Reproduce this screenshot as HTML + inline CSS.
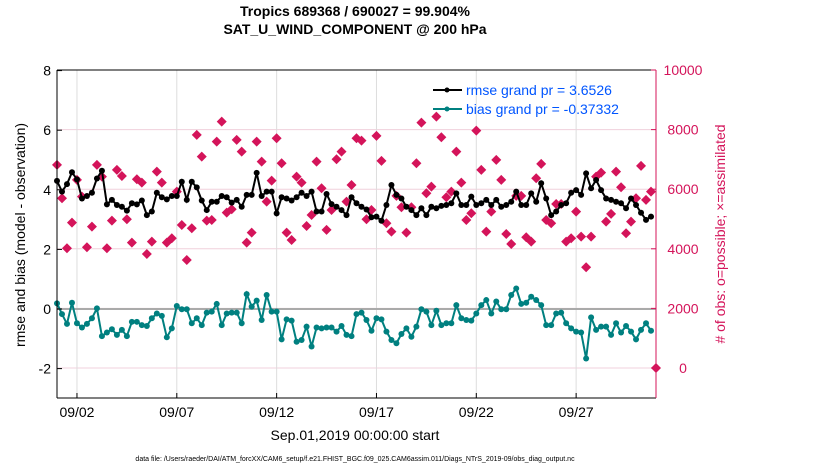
<!DOCTYPE html>
<html><head><meta charset="utf-8"><style>
body{margin:0;background:#fff;}
svg{display:block;font-family:"Liberation Sans",sans-serif;}
</style></head><body>
<svg id="c" width="830" height="470">
<text x="355" y="16" text-anchor="middle" font-size="14" font-weight="bold">Tropics 689368 / 690027 = 99.904%</text>
<text x="355" y="34" text-anchor="middle" font-size="14" font-weight="bold">SAT_U_WIND_COMPONENT @ 200 hPa</text>
<text transform="translate(25,235) rotate(-90)" text-anchor="middle" font-size="14">rmse and bias (model - observation)</text>
<text transform="translate(725,234) rotate(-90)" text-anchor="middle" font-size="14" fill="#d4145a"># of obs: o=possible; ×=assimilated</text>
<text x="355" y="440" text-anchor="middle" font-size="14">Sep.01,2019 00:00:00 start</text>
<text x="355" y="461" text-anchor="middle" font-size="7">data file: /Users/raeder/DAI/ATM_forcXX/CAM6_setup/f.e21.FHIST_BGC.f09_025.CAM6assim.011/Diags_NTrS_2019-09/obs_diag_output.nc</text>
<g id="grid"></g><g id="marks"></g><g id="axes"></g>
<g>
<line x1="433" y1="90" x2="462" y2="90" stroke="#000" stroke-width="2"/><circle cx="447" cy="90" r="2.5" fill="#000"/>
<text x="466" y="95" font-size="14" fill="#0055ff">rmse grand pr = 3.6526</text>
<line x1="433" y1="109" x2="462" y2="109" stroke="#008080" stroke-width="2"/><circle cx="447" cy="109" r="2.5" fill="#008080"/>
<text x="466" y="114" font-size="14" fill="#0055ff">bias grand pr = -0.37332</text>
</g>
</svg>
<script>
const rmse=[4.3,3.94,4.19,4.59,4.35,3.71,3.79,3.9,4.38,4.64,3.51,3.66,3.49,3.43,3.3,3.55,3.51,3.64,3.15,3.27,3.9,3.75,3.68,3.79,3.79,4.27,3.66,4.27,4.08,3.64,3.32,3.6,3.6,3.79,3.75,3.57,3.66,3.43,3.83,3.83,4.57,3.79,3.94,3.94,3.21,3.75,3.71,3.64,3.75,3.9,3.79,3.94,3.27,3.27,3.86,3.52,3.43,3.32,3.15,
3.75,3.55,3.43,3.34,3.08,3.1,2.96,3.49,4.16,3.83,3.71,3.43,3.32,3.15,3.38,3.15,3.43,3.38,3.46,3.49,3.55,3.88,3.49,3.49,3.77,3.49,3.55,3.66,3.49,3.66,3.43,3.49,3.6,3.94,3.49,3.49,3.88,3.6,4.22,3.71,3.15,3.27,3.49,3.55,3.9,3.99,3.83,4.55,4.05,4.33,3.99,3.71,3.66,3.6,3.55,3.38,3.71,3.49,3.23,2.99,3.1];
const bias=[0.19,-0.17,-0.5,0.21,-0.48,-0.62,-0.5,-0.31,0.02,-0.91,-0.79,-0.68,-0.87,-0.7,-0.91,-0.43,-0.43,-0.54,-0.57,-0.31,-0.15,-0.23,-0.95,-0.65,0.1,-0.01,-0.01,-0.48,-0.31,-0.54,-0.12,-0.09,0.17,-0.54,-0.15,-0.12,-0.12,-0.48,0.5,0.08,0.28,-0.37,0.47,-0.09,-0.09,-1.02,-0.35,-0.39,-1.1,-1.04,-0.59,-1.26,-0.62,-0.65,-0.62,-0.62,-0.76,-0.57,-0.87,
-0.91,-0.17,-0.12,-0.37,-0.73,-0.31,-0.35,-0.76,-1.04,-1.15,-0.84,-0.65,-0.93,-0.59,-0.01,-0.09,-0.54,-0.06,-0.54,-0.48,-0.48,0.13,-0.31,-0.37,-0.39,-0.15,0.13,0.3,-0.15,0.25,-0.01,-0.01,0.47,0.69,0.17,0.21,0.41,0.3,0.13,-0.54,-0.54,-0.15,-0.12,-0.48,-0.65,-0.76,-0.79,-1.66,-0.28,-0.7,-0.59,-0.59,-0.87,-0.48,-0.79,-0.57,-0.76,-1.02,-0.7,-0.48,-0.73];
const obs=[6815,5696,4017,4879,6311,5752,4051,4745,6815,6423,4017,4946,6647,6445,4991,4207,6333,6221,3827,4241,6591,6221,
4207,4353,5920,4800,3625,4688,7822,7094,4946,4968,7598,8269,5215,5326,7654,7262,4207,4543,7598,6926,5584,6289,7710,6871,4543,4297,6423,6221,4767,5136,6926,6031,4633,5304,7005,7262,5584,
6143,7710,7632,4991,5304,7788,6949,4856,4577,5774,5394,4543,5394,6871,8236,5864,6087,8437,7743,5729,5920,7262,6221,4968,5192,7967,6647,4577,5248,6983,6311,4498,4163,5774,5774,4386,4241,6367,6848,4968,4856,5505,5505,4241,4353,5248,4409,3379,4409,6423,6557,4912,5170,6591,6065,4521,4912,5696,6781,5640,5920,0];
const leftTicks=[-2,0,2,4,6,8];
const rightTicks=[0,2000,4000,6000,8000,10000];
const xTickDays=[1,6,11,16,21,26];
const xTickLabels=["09/02","09/07","09/12","09/17","09/22","09/27"];
const NS='http://www.w3.org/2000/svg';
const X0=57,X1=656,Y0=70,Y1=398;
const xs=i=>X0+i*5*(X1-X0)/600; // 6-hourly index
const xd=d=>X0+d*20*(X1-X0)/600;
const yl=v=>309-v*29.8;
const yr=v=>368-v*0.0298;
function mk(p,t,a){const e=document.createElementNS(NS,t);for(const k in a)e.setAttribute(k,a[k]);p.appendChild(e);return e;}
const G=document.getElementById('grid'),M=document.getElementById('marks'),A=document.getElementById('axes');
rightTicks.forEach(v=>{const l=mk(G,'line',{x1:X0,x2:X1,y1:yr(v),y2:yr(v),stroke:'#f0d0dc','stroke-width':1});

});
xTickDays.forEach((d,k)=>{const l=mk(G,'line',{x1:xd(d),x2:xd(d),y1:Y0,y2:Y1,stroke:'#ddd','stroke-width':1});


const t=mk(A,'text',{x:xd(d),y:417,'text-anchor':'middle','font-size':14});t.textContent=xTickLabels[k];


mk(A,'line',{x1:xd(d),x2:xd(d),y1:Y1,y2:Y1-5,stroke:'#000'});});
const z=mk(G,'line',{x1:X0,x2:X1,y1:yl(0),y2:yl(0),stroke:'#aaa','stroke-width':2});


obs.forEach((v,i)=>{const x=xs(i),y=yr(v);const d=mk(M,'path',{d:`M${x},${y-5}L${x+5},${y}L${x},${y+5}L${x-5},${y}Z`,fill:'#d4145a'});

});
function series(arr,col,name){const p=mk(M,'polyline',{points:arr.map((v,i)=>xs(i)+','+yl(v)).join(' '),fill:'none',stroke:col,'stroke-width':2});


arr.forEach((v,i)=>{const c=mk(M,'circle',{cx:xs(i),cy:yl(v),r:3,fill:col});

});}
series(rmse,'#000','rmse');series(bias,'#008080','bias');
mk(A,'line',{x1:X0,x2:X0,y1:Y0,y2:Y1,stroke:'#000'});
mk(A,'line',{x1:X0,x2:X1,y1:Y0,y2:Y0,stroke:'#000'});
mk(A,'line',{x1:X0,x2:X1,y1:Y1,y2:Y1,stroke:'#000'});
mk(A,'line',{x1:X1,x2:X1,y1:Y0,y2:Y1,stroke:'#d4145a'});
leftTicks.forEach(v=>{mk(A,'line',{x1:X0,x2:X0+5,y1:yl(v),y2:yl(v),stroke:'#000'});
const t=mk(A,'text',{x:X0-6,y:yl(v)+5,'text-anchor':'end','font-size':14});t.textContent=v;

});
rightTicks.forEach(v=>{mk(A,'line',{x1:X1,x2:X1-5,y1:yr(v),y2:yr(v),stroke:'#d4145a'});
const t=mk(A,'text',{x:X1+27,y:yr(v)+5,'text-anchor':'middle','font-size':14,fill:'#d4145a'});t.textContent=v;

});
</script>
</body></html>
